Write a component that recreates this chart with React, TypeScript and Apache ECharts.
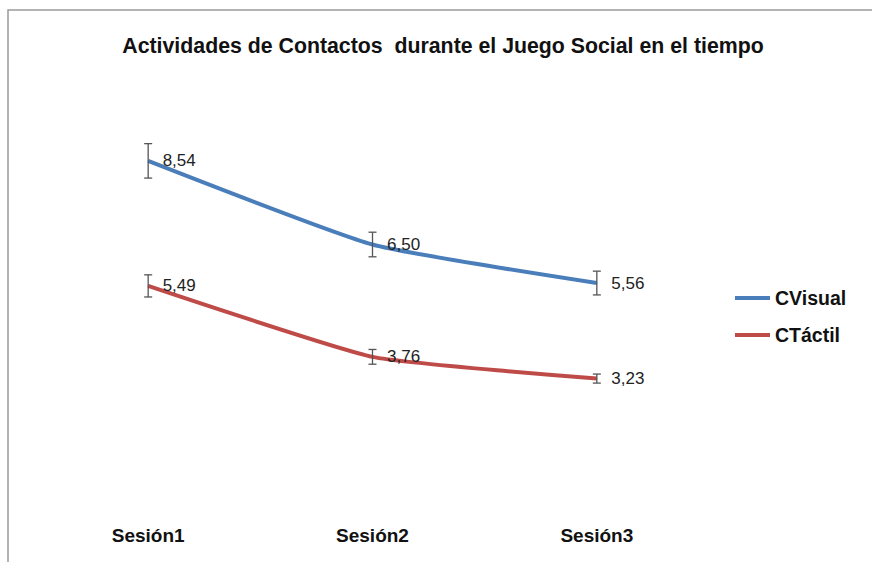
import React, { useEffect, useRef } from "react";
import * as echarts from "echarts";

const categories = ["Sesión1", "Sesión2", "Sesión3"];
const cVisual = [8.54, 6.5, 5.56];
const cTactil = [5.49, 3.76, 3.23];
const cVisualErr = [0.42, 0.3, 0.29];
const cTactilErr = [0.27, 0.18, 0.11];
const seriesNames = ["CVisual", "CTáctil"];
const colors = ["#4A7EBB", "#BE4B48"];

const fmt = (v: number) => v.toFixed(2).replace(".", ",");

function errData(vals: number[], errs: number[]) {
  return vals.map((v, i) => [i, v - errs[i], v + errs[i]]);
}

const renderErr = (params: any, api: any) => {
  const x = api.value(0);
  const lo = api.coord([x, api.value(1)]);
  const hi = api.coord([x, api.value(2)]);
  const cap = 4;
  const style = { stroke: "#555", lineWidth: 1.3 };
  return {
    type: "group",
    children: [
      { type: "line", shape: { x1: lo[0], y1: lo[1], x2: hi[0], y2: hi[1] }, style },
      { type: "line", shape: { x1: hi[0] - cap, y1: hi[1], x2: hi[0] + cap, y2: hi[1] }, style },
      { type: "line", shape: { x1: lo[0] - cap, y1: lo[1], x2: lo[0] + cap, y2: lo[1] }, style },
    ],
  };
};

export default function App() {
  const ref = useRef<HTMLDivElement>(null);
  useEffect(() => {
    if (!ref.current) return;
    const chart = echarts.init(ref.current, null, { renderer: "svg" });
    const lineSeries = (name: string, data: number[], color: string) => ({
      name,
      type: "line",
      data,
      smooth: 0.15,
      showSymbol: true,
      symbol: "circle",
      symbolSize: 1,
      lineStyle: { color, width: 4 },
      itemStyle: { color },
      z: 2,
      label: {
        show: true,
        position: "right",
        distance: 14,
        color: "#222",
        fontFamily: "Liberation Sans, Arial, sans-serif",
        fontSize: 17,
        formatter: (p: any) => fmt(p.value),
      },
    });
    chart.setOption({
      animation: false,
      backgroundColor: "#fff",
      textStyle: { fontFamily: "Liberation Sans, Arial, sans-serif" },
      title: {
        text: "Actividades de Contactos  durante el Juego Social en el tiempo",
        left: 438,
        textAlign: "center",
        top: 30,
        textStyle: { fontSize: 21.3, fontWeight: "bold", color: "#111" },
      },
      graphic: [
        {
          type: "rect",
          shape: { x: 8, y: 10, width: 1000, height: 1000 },
          style: { fill: "none", stroke: "#9a9a9a", lineWidth: 1.5 },
          silent: true,
        },
      ],
      legend: {
        orient: "vertical",
        left: 730,
        top: 283,
        itemWidth: 35,
        itemHeight: 4,
        itemGap: 17,
        data: seriesNames.map((n) => ({ name: n, icon: "rect" })),
        textStyle: { fontSize: 19.5, fontWeight: "bold", color: "#111", lineHeight: 18 },
      },
      grid: { left: 36, right: 163, top: 101, bottom: 51 },
      xAxis: {
        type: "category",
        data: categories,
        boundaryGap: true,
        axisLine: { show: false },
        axisTick: { show: false },
        axisLabel: { fontSize: 19, fontWeight: "bold", color: "#111", margin: 15 },
        splitLine: { show: false },
      },
      yAxis: {
        type: "value",
        min: 0,
        max: 10,
        show: false,
        splitLine: { show: false },
      },
      series: [
        lineSeries(seriesNames[0], cVisual, colors[0]),
        lineSeries(seriesNames[1], cTactil, colors[1]),
        {
          type: "custom",
          name: "errV",
          renderItem: renderErr,
          data: errData(cVisual, cVisualErr),
          encode: { x: 0, y: [1, 2] },
          z: 3,
          silent: true,
        },
        {
          type: "custom",
          name: "errT",
          renderItem: renderErr,
          data: errData(cTactil, cTactilErr),
          encode: { x: 0, y: [1, 2] },
          z: 3,
          silent: true,
        },
      ],
    });
    return () => chart.dispose();
  }, []);
  return (
    <div
      ref={ref}
      style={{ position: "fixed", left: 0, top: 0, width: 872, height: 562 }}
    />
  );
}
